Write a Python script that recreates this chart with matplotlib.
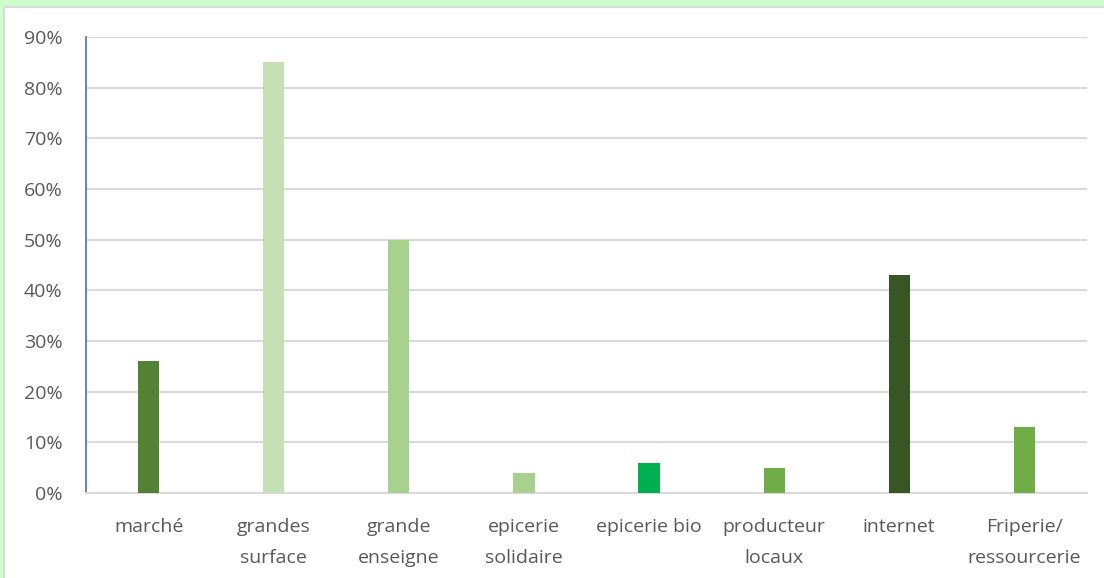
import matplotlib.pyplot as plt
import matplotlib.ticker as mticker
from matplotlib.patches import Rectangle

# Daten
categories = ["marché", "grandes\nsurface", "grande\nenseigne", "epicerie\nsolidaire",
              "epicerie bio", "producteur\nlocaux", "internet", "Friperie/\nressourcerie"]
values = [26, 85, 50, 4, 6, 5, 43, 13]
colors = ["#548235", "#C5E0B4", "#A9D18E", "#A9D18E",
          "#00B050", "#70AD47", "#375623", "#70AD47"]

W, H = 1104, 578
fig = plt.figure(figsize=(W / 100, H / 100), dpi=100)
fig.patch.set_facecolor("#CCFFCC")

# weißer Rahmen
panel = Rectangle((4 / W, -0.05), 1.1, (H - 7) / H + 0.05, transform=fig.transFigure,
                  facecolor="white", edgecolor="#D9D9D9", linewidth=1.5, zorder=-10)
fig.add_artist(panel)

ax = fig.add_axes([86 / W, (H - 493) / H, (1087 - 86) / W, (493 - 37) / H])
ax.set_facecolor("none")

x = range(len(categories))
ax.bar(x, values, width=0.17, color=colors, zorder=3)

ax.set_xlim(-0.5, len(categories) - 0.5)
ax.set_ylim(0, 90)
ax.yaxis.set_major_locator(mticker.MultipleLocator(10))
ax.yaxis.set_major_formatter(mticker.FuncFormatter(lambda v, p: f"{int(v)}%"))
ax.grid(axis="y", color="#D9D9D9", linewidth=1.5, zorder=0)

ax.set_xticks(list(x))
ax.set_xticklabels(categories, linespacing=1.92)

for s in ["top", "right"]:
    ax.spines[s].set_visible(False)
ax.spines["left"].set_color("#4472C4")
ax.spines["left"].set_linewidth(1.2)
ax.spines["bottom"].set_color("#D9D9D9")
ax.spines["bottom"].set_linewidth(1.5)

ax.tick_params(axis="both", length=0, labelsize=14, labelcolor="#595959")
ax.tick_params(axis="y", pad=17)
ax.tick_params(axis="x", pad=18)
for t in ax.get_xticklabels() + ax.get_yticklabels():
    t.set_fontfamily("Open Sans")

fig.savefig("out.png", dpi=100, facecolor=fig.get_facecolor())
